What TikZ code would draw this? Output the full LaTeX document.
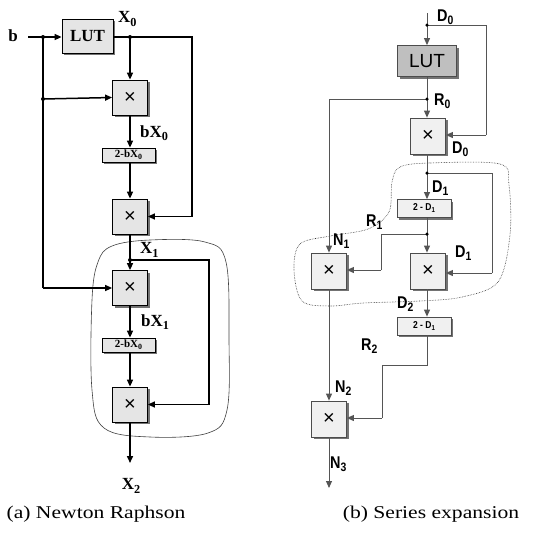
\documentclass[tikz,border=0pt]{standalone}
\usepackage{fontspec}
\usepackage{graphicx}
\setmainfont{Liberation Serif}
\newfontfamily\capfont{Liberation Serif}[FakeStretch=1.2]
\newfontfamily\sansf{Liberation Sans}
\newfontfamily\sansn{Liberation Sans}[FakeStretch=0.85]
\usetikzlibrary{shadows,arrows.meta}
\newcommand\mysub[1]{\raisebox{-0.2em}{\scalebox{0.72}{#1}}}
\definecolor{lnBcol}{HTML}{555555}
\tikzset{
  lineA/.style={line width=1.5pt, black},
  arrA/.style={lineA, -{Triangle[length=7pt,width=6pt]}},
  lineB/.style={line width=0.9pt, draw=lnBcol},
  arrB/.style={lineB, -{Triangle[length=7pt,width=6pt]}},
  shad/.style={drop shadow={shadow xshift=2pt, shadow yshift=-2pt, fill=black!55, opacity=1}},
  mulA/.style={draw, line width=0.8pt, fill=black!10, minimum width=35pt, minimum height=35pt, inner sep=0pt, shad, font=\sansf\fontsize{20}{20}\selectfont},
  smallA/.style={draw, line width=0.8pt, fill=black!10, minimum width=53pt, minimum height=14pt, inner sep=0pt, shad, font=\bfseries\fontsize{11}{11}\selectfont},
  lutA/.style={draw, line width=0.8pt, fill=black!10, minimum width=51pt, minimum height=34pt, inner sep=0pt, shad, font=\bfseries\fontsize{17}{17}\selectfont},
  mulB/.style={draw, line width=0.8pt, draw=black!70, fill=black!6, minimum width=35pt, minimum height=36pt, inner sep=0pt, shad, font=\sansf\fontsize{20}{20}\selectfont},
  smallB/.style={draw, line width=0.8pt, draw=black!70, fill=black!6, minimum width=54pt, minimum height=18pt, inner sep=0pt, shad, font=\sansn\bfseries\fontsize{10}{10}\selectfont},
  lutB/.style={draw, line width=0.8pt, draw=black!70, fill=black!25, minimum width=59pt, minimum height=31pt, inner sep=0pt, shad, font=\sansf\fontsize{19}{19}\selectfont},
  labA/.style={font=\bfseries\fontsize{17}{17}\selectfont, inner sep=0pt},
  labB/.style={font=\sansn\bfseries\fontsize{17}{17}\selectfont, inner sep=0pt, anchor=west},
  dotA/.style={circle, fill=black, inner sep=0pt, minimum size=4pt},
  dotB/.style={circle, fill=black, inner sep=0pt, minimum size=3.5pt},
}
\begin{document}
\begin{tikzpicture}[x=1pt,y=-1pt]
\useasboundingbox (0,0) rectangle (535,542);
% ---------------- (a) Newton Raphson ----------------
\draw[line width=0.6pt, black!75] plot[smooth cycle, tension=0.6] coordinates
  {(112,246) (150,240) (205,242) (226,262) (229,340) (227,410) (208,433) (150,437) (104,428) (92,390) (92,300) (98,262)};
\node[lutA] (lut) at (87.5,36) {LUT};
\node[mulA] (m1) at (130,97.5) {×};
\node[smallA] (s1) at (128.5,155) {2-bX\mysub{0}};
\node[mulA] (m2) at (130,216.5) {×};
\node[mulA] (m3) at (130,288) {×};
\node[smallA] (s2) at (128.5,345) {2-bX\mysub{0}};
\node[mulA] (m4) at (130,404.5) {×};
\node[labA] (bl) at (13,36) {b};
\coordinate (bstart) at (28,37);
\coordinate (jb1) at (43,37);
\coordinate (jb2) at (43,99);
\coordinate (jbb) at (43,288);
\coordinate (jx0) at (130,37);
\coordinate (rx0) at (192,37);
\coordinate (rx0b) at (192,216.5);
\coordinate (jx1) at (130,260);
\coordinate (rx1) at (209,260);
\coordinate (rx1b) at (209,404.5);
\coordinate (x2end) at (130,463);
\draw[arrA] (bstart) -- (lut.west |- bstart);
\draw[lineA] (jb1) -- (jbb);
\draw[arrA] (jbb) -- (m3.west);
\draw[arrA] (jb2) -- (m1.west);
\draw[lineA] (lut.east |- jx0) -- (rx0) -- (rx0b);
\draw[arrA] (rx0b) -- (m2.east);
\draw[arrA] (jx0) -- (m1.north);
\draw[arrA] (m1.south) -- (m1.south |- s1.north);
\draw[arrA] (m1.south |- s1.south) -- (m2.north);
\draw[arrA] (m2.south) -- (m3.north);
\draw[lineA] (jx1) -- (rx1) -- (rx1b);
\draw[arrA] (rx1b) -- (m4.east);
\draw[arrA] (m3.south) -- (m3.south |- s2.north);
\draw[arrA] (m3.south |- s2.south) -- (m4.north);
\draw[arrA] (m4.south) -- (x2end);
\node[dotA] at (jb1) {};
\node[dotA] at (jb2) {};
\node[dotA] at (jx0) {};
\node[dotA] at (jx1) {};
\node[labA, anchor=west] (lx0) at (118,19) {X\mysub{0}};
\node[labA, anchor=west] (lbx0) at (140,133) {bX\mysub{0}};
\node[labA, anchor=west] (lx1) at (140,250) {X\mysub{1}};
\node[labA, anchor=west] (lbx1) at (141,322) {bX\mysub{1}};
\node[labA] (lx2) at (131,486) {X\mysub{2}};
% ---------------- (b) Series expansion ----------------
\draw[line width=0.6pt, black!80, densely dotted] plot[smooth cycle, tension=0.55] coordinates
  {(400,167) (430,163) (500,164) (509,185) (510,235) (498,282) (462,297) (420,301) (363,303) (330,306) (302,301) (294,270) (300,244) (330,236) (368,229) (389,212) (392,182)};
\node[lutB] (lutb) at (427,61) {LUT};
\node[mulB] (mb0) at (428,136) {×};
\node[smallB] (sb1) at (424,208.5) {2 - D\mysub{1}};
\node[mulB] (mn1) at (329,271) {×};
\node[mulB] (md) at (428,271) {×};
\node[smallB] (sb2) at (424,326) {2 - D\mysub{1}};
\node[mulB] (mn2) at (329,419) {×};
\coordinate (dtop) at (427,13);
\coordinate (jd0) at (427,25);
\coordinate (rd0) at (486,25);
\coordinate (rd0b) at (486,135);
\coordinate (jr0) at (427,99);
\coordinate (lr0) at (329,99);
\coordinate (jd1) at (427,173);
\coordinate (rd1) at (492,173);
\coordinate (rd1b) at (492,273);
\coordinate (jr1) at (427,234);
\coordinate (lr1) at (381,234);
\coordinate (lr1b) at (381,270);
\coordinate (p1) at (427,365);
\coordinate (p2) at (382,365);
\coordinate (p3) at (382,418);
\coordinate (n3end) at (329,488);
\draw[arrB] (dtop) -- (lutb.north -| dtop);
\draw[lineB] (jd0) -- (rd0) -- (rd0b);
\draw[arrB] (rd0b) -- (mb0.east |- rd0b);
\draw[arrB] (lutb.south -| jr0) -- (mb0.north -| jr0);
\draw[lineB] (jr0) -- (lr0);
\draw[arrB] (lr0) -- (mn1.north);
\draw[arrB] (mb0.south -| jd1) -- (sb1.north -| jd1);
\draw[lineB] (jd1) -- (rd1) -- (rd1b);
\draw[arrB] (rd1b) -- (md.east |- rd1b);
\draw[arrB] (sb1.south -| jr1) -- (md.north -| jr1);
\draw[lineB] (jr1) -- (lr1) -- (lr1b);
\draw[arrB] (lr1b) -- (mn1.east |- lr1b);
\draw[arrB] (md.south -| p1) -- (sb2.north -| p1);
\draw[lineB] (sb2.south -| p1) -- (p1) -- (p2) -- (p3);
\draw[arrB] (p3) -- (mn2.east |- p3);
\draw[arrB] (mn1.south) -- (mn2.north);
\draw[arrB] (mn2.south) -- (n3end);
\node[dotB] at (jd0) {};
\node[dotB] at (jr0) {};
\node[dotB] at (jd1) {};
\node[dotB] at (jr1) {};
\node[labB] (ld0) at (437,17) {D\mysub{0}};
\node[labB] (lr0t) at (434,101) {R\mysub{0}};
\node[labB] (ld0b) at (452,149) {D\mysub{0}};
\node[labB] (ld1) at (432,188) {D\mysub{1}};
\node[labB] (lr1t) at (366,222) {R\mysub{1}};
\node[labB] (ln1) at (333,241) {N\mysub{1}};
\node[labB] (ld1b) at (455,253) {D\mysub{1}};
\node[labB] (ld2) at (397,304) {D\mysub{2}};
\node[labB] (lr2) at (361,346) {R\mysub{2}};
\node[labB] (ln2) at (335,388) {N\mysub{2}};
\node[labB] (ln3) at (330,464) {N\mysub{3}};
% ---------------- captions ----------------
\node[font=\capfont\fontsize{18}{20}\selectfont, inner sep=0pt] (capa) at (96,514) {(a) Newton Raphson};
\node[font=\capfont\fontsize{18}{20}\selectfont, inner sep=0pt] (capb) at (431,514) {(b) Series expansion};
\end{tikzpicture}
\end{document}
